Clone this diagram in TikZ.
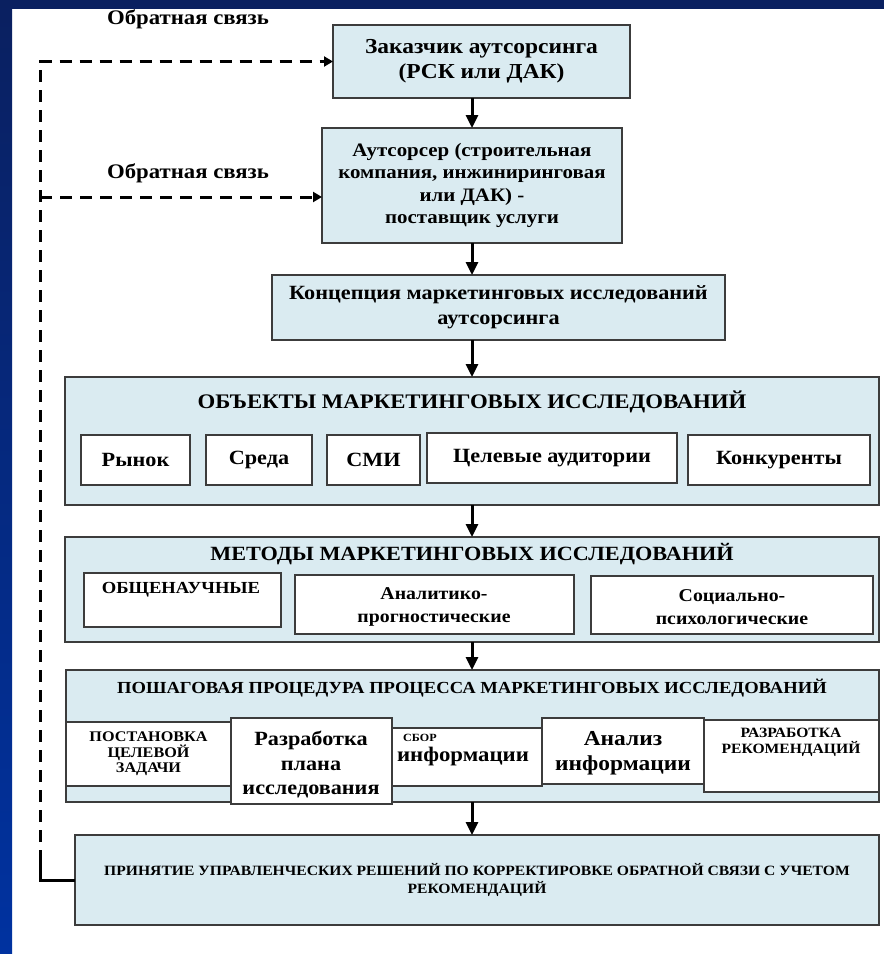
\documentclass[tikz,border=0pt]{standalone}
\usepackage{fontspec}
\setmainfont{Liberation Serif}[FakeStretch=1.1]
\usetikzlibrary{arrows.meta}

\definecolor{frametop}{RGB}{10,32,96}
\definecolor{framebot}{RGB}{0,50,160}
\definecolor{boxfill}{RGB}{218,235,241}
\definecolor{boxline}{RGB}{60,60,60}

\newcommand\fsz[2]{\fontsize{#1}{#2}\selectfont\bfseries}

% rectangle node given by its corners (x1,y1)-(x2,y2) in pixel units
\newcommand\mkbox[7]{%
  \pgfmathsetmacro\bw{#5-#3}\pgfmathsetmacro\bh{#6-#4}%
  \pgfmathsetmacro\bcx{(#3+#5)/2}\pgfmathsetmacro\bcy{(#4+#6)/2}%
  \node[#1, minimum width=\bw pt, minimum height=\bh pt] (#2) at (\bcx,\bcy) {#7};}

\tikzset{
  bluebox/.style={draw=boxline, line width=1.5pt, fill=boxfill, inner sep=0pt, outer sep=0pt, align=center},
  whitebox/.style={draw=boxline, line width=1.5pt, fill=white, inner sep=0pt, outer sep=0pt, align=center},
  lbl/.style={inner sep=0pt, align=center},
  arr/.style={line width=3pt, -{Triangle[width=12pt,length=13pt]}},
  fbline/.style={line width=3pt, dash pattern=on 12pt off 8pt},
  fbarr/.style={fbline, -{Triangle[width=10pt,length=9pt]}},
  solidline/.style={line width=3pt}
}

\begin{document}
\begin{tikzpicture}[x=1pt,y=-1pt]
\useasboundingbox (0,0) rectangle (884,954);
% frame
\fill[white] (0,0) rectangle (884,954);
\fill[frametop] (0,0) rectangle (884,9);
\shade[top color=frametop, bottom color=framebot] (0,0) rectangle (12,954);

% main chain
\mkbox{bluebox,font=\fsz{21.3}{25}}{b1}{333}{25}{630}{98}{Заказчик аутсорсинга\\(РСК или ДАК)}
\mkbox{bluebox,font=\fsz{19}{22.5}}{b2}{322}{128}{622}{243}{Аутсорсер (строительная\\компания, инжиниринговая\\или ДАК) -\\поставщик услуги}
\mkbox{bluebox,font=\fsz{20.2}{25}}{b3}{272}{275}{725}{340}{Концепция маркетинговых исследований\\аутсорсинга}

% objects
\mkbox{bluebox}{b4}{65}{377}{879}{505}{}
\node[lbl, font=\fsz{20.7}{22}] (t4) at (472,402) {ОБЪЕКТЫ МАРКЕТИНГОВЫХ ИССЛЕДОВАНИЙ};
\mkbox{whitebox,font=\fsz{20.2}{20}}{o1}{81}{435}{190}{485}{Рынок}
\mkbox{whitebox,font=\fsz{20.2}{20}}{o2}{206}{435}{312}{485}{Среда}
\mkbox{whitebox,font=\fsz{20.2}{20}}{o3}{327}{435}{420}{485}{СМИ}
\mkbox{whitebox,font=\fsz{20.2}{20}}{o4}{427}{433}{677}{483}{Целевые аудитории}
\mkbox{whitebox,font=\fsz{20.2}{20}}{o5}{688}{435}{870}{485}{Конкуренты}

% methods
\mkbox{bluebox}{b5}{65}{537}{879}{642}{}
\node[lbl, font=\fsz{20.2}{22}] (t5) at (472,554) {МЕТОДЫ МАРКЕТИНГОВЫХ ИССЛЕДОВАНИЙ};
\mkbox{whitebox}{m1}{84}{573}{281}{627}{}
\node[lbl, font=\fsz{16.9}{16}] (m1t) at (181,590) {ОБЩЕНАУЧНЫЕ};
\mkbox{whitebox}{m2}{295}{575}{574}{634}{}
\node[lbl, font=\fsz{18}{23}] (m2t) at (434,607) {Аналитико-\\прогностические};
\mkbox{whitebox}{m3}{591}{576}{873}{634}{}
\node[lbl, font=\fsz{18}{23}] (m3t) at (732,607) {Социально-\\психологические};

% step-by-step procedure
\mkbox{bluebox}{b6}{66}{670}{879}{802}{}
\node[lbl, font=\fsz{16.9}{18}] (t6) at (472,688) {ПОШАГОВАЯ ПРОЦЕДУРА ПРОЦЕССА МАРКЕТИНГОВЫХ ИССЛЕДОВАНИЙ};
\mkbox{whitebox,font=\fsz{14.7}{15.5}}{s1}{66}{722}{231}{786}{ПОСТАНОВКА\\ЦЕЛЕВОЙ\\ЗАДАЧИ}
\mkbox{whitebox}{s3}{392}{728}{542}{786}{}
\node[lbl, anchor=west, font=\fsz{11}{14}] (s3a) at (403,738) {СБОР};
\node[lbl, font=\fsz{20.7}{20}] (s3b) at (463,757) {информации};
\mkbox{whitebox}{s2}{231}{718}{392}{804}{}
\node[lbl, font=\fsz{20.2}{24.5}] (s2t) at (311,765) {Разработка\\плана\\исследования};
\mkbox{whitebox}{s4}{542}{718}{704}{784}{}
\node[lbl, font=\fsz{21.3}{24.5}] (s4t) at (623,753) {Анализ\\информации};
\mkbox{whitebox}{s5}{704}{720}{879}{792}{}
\node[lbl, font=\fsz{14.2}{16}] (s5t) at (791,742) {РАЗРАБОТКА\\РЕКОМЕНДАЦИЙ};

% decision
\mkbox{bluebox,font=\fsz{14.2}{18.5}}{b7}{75}{835}{879}{925}{ПРИНЯТИЕ УПРАВЛЕНЧЕСКИХ РЕШЕНИЙ ПО КОРРЕКТИРОВКЕ ОБРАТНОЙ СВЯЗИ С УЧЕТОМ\\РЕКОМЕНДАЦИЙ}

% vertical flow arrows
\coordinate (ax) at (472,0);
\draw[arr] (b1.south -| ax) -- (b2.north -| ax);
\draw[arr] (b2.south -| ax) -- (b3.north -| ax);
\draw[arr] (b3.south -| ax) -- (b4.north -| ax);
\draw[arr] (b4.south -| ax) -- (b5.north -| ax);
\draw[arr] (b5.south -| ax) -- (b6.north -| ax);
\draw[arr] (b6.south -| ax) -- (b7.north -| ax);

% feedback loop
\coordinate (fx) at (40,0);
\coordinate (f2y) at (0,197);
\coordinate (fturn) at (40,862);
\draw[solidline] (b7.west) -- (b7.west -| fx) -- (fturn);
\draw[fbarr] (fturn) -- (b1.west -| fx) -- (b1.west);
\draw[fbarr] (f2y -| fx) -- (f2y -| b2.west);
\node[lbl, font=\fsz{20.7}{20}] (fb1) at (188,19) {Обратная связь};
\node[lbl, font=\fsz{20.7}{20}] (fb2) at (188,173) {Обратная связь};
\end{tikzpicture}
\end{document}
